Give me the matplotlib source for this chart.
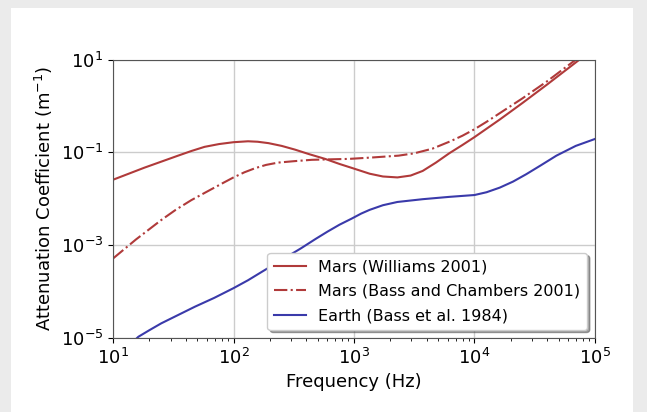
# attenuation coefficient vs frequency, Mars vs Earth

import numpy as np
import matplotlib
matplotlib.use("Agg")
import matplotlib.pyplot as plt
from matplotlib.patches import Rectangle

# values (log10 frequency, log10 attenuation)
williams_logf = [1.0, 1.13, 1.26, 1.4, 1.54, 1.65, 1.76, 1.88, 2.0, 2.12, 2.2,
                 2.29, 2.4, 2.51, 2.63, 2.76, 2.88, 3.0, 3.13, 3.24, 3.36,
                 3.47, 3.57, 3.68, 3.79, 3.9, 4.0, 4.21, 4.4, 4.6, 4.87, 5.0]
williams_loga = [-1.59, -1.46, -1.33, -1.20, -1.07, -0.97, -0.88, -0.82, -0.78,
                 -0.76, -0.77, -0.80, -0.86, -0.94, -1.04, -1.14, -1.25, -1.35,
                 -1.46, -1.52, -1.54, -1.50, -1.40, -1.22, -1.02, -0.84, -0.67,
                 -0.29, 0.07, 0.46, 1.0, 1.25]

bass_logf = [1.0, 1.19, 1.4, 1.52, 1.65, 1.82, 1.92, 2.0, 2.09, 2.18, 2.27,
             2.37, 2.5, 2.65, 2.8, 2.96, 3.15, 3.37, 3.5, 3.65, 3.8, 3.9, 4.0,
             4.1, 4.2, 4.4, 4.6, 4.84, 5.0]
bass_loga = [-3.29, -2.88, -2.46, -2.24, -2.03, -1.79, -1.65, -1.54, -1.43,
             -1.34, -1.27, -1.22, -1.19, -1.16, -1.15, -1.14, -1.11, -1.07,
             -1.02, -0.92, -0.76, -0.64, -0.50, -0.34, -0.17, 0.17, 0.53, 1.0,
             1.31]

earth_logf = [1.0, 1.21, 1.3, 1.4, 1.54, 1.68, 1.84, 2.0, 2.12, 2.24, 2.4,
              2.56, 2.68, 2.78, 2.88, 2.98, 3.06, 3.13, 3.24, 3.36, 3.57, 3.79,
              4.0, 4.1, 4.21, 4.32, 4.43, 4.55, 4.68, 4.84, 5.0]
earth_loga = [-5.5, -4.98, -4.84, -4.69, -4.51, -4.33, -4.14, -3.93, -3.76,
              -3.57, -3.32, -3.07, -2.87, -2.71, -2.56, -2.43, -2.32, -2.24,
              -2.14, -2.07, -2.01, -1.96, -1.92, -1.86, -1.76, -1.63, -1.47,
              -1.28, -1.07, -0.86, -0.71]

labels = ["Mars (Williams 2001)", "Mars (Bass and Chambers 2001)",
          "Earth (Bass et al. 1984)"]

red = "#b03a3a"
blue = "#3a3aaa"

fig = plt.figure(figsize=(6.47, 4.12), dpi=100)
fig.patch.set_facecolor("#ebebeb")
fig.patches.append(Rectangle((11 / 647, 0), 622 / 647, 404 / 412,
                             transform=fig.transFigure, facecolor="white",
                             edgecolor="none", zorder=-10))

ax = fig.add_axes([0.1747, 0.1803, 0.7449, 0.6747])

ax.plot(10 ** np.array(williams_logf), 10 ** np.array(williams_loga),
        color=red, lw=1.5, label=labels[0])
ax.plot(10 ** np.array(bass_logf), 10 ** np.array(bass_loga),
        color=red, lw=1.5, ls="-.", label=labels[1])
ax.plot(10 ** np.array(earth_logf), 10 ** np.array(earth_loga),
        color=blue, lw=1.5, label=labels[2])

ax.set_xscale("log")
ax.set_yscale("log")
ax.set_xlim(1e1, 1e5)
ax.set_ylim(1e-5, 1e1)
ax.set_yticks([1e-5, 1e-3, 1e-1, 1e1])
ax.yaxis.set_minor_locator(matplotlib.ticker.NullLocator())
ax.tick_params(labelsize=13)
ax.grid(True, which="major", color="#cccccc", lw=1)
for sp in ax.spines.values():
    sp.set_color("#555555")

ax.set_xlabel("Frequency (Hz)", fontsize=13)
ax.set_ylabel("Attenuation Coefficient (m$^{-1}$)", fontsize=13)

ax.legend(loc="lower right", fontsize=11.5, shadow=True, labelspacing=0.6)

fig.savefig("out.png", dpi=100, facecolor=fig.get_facecolor())
